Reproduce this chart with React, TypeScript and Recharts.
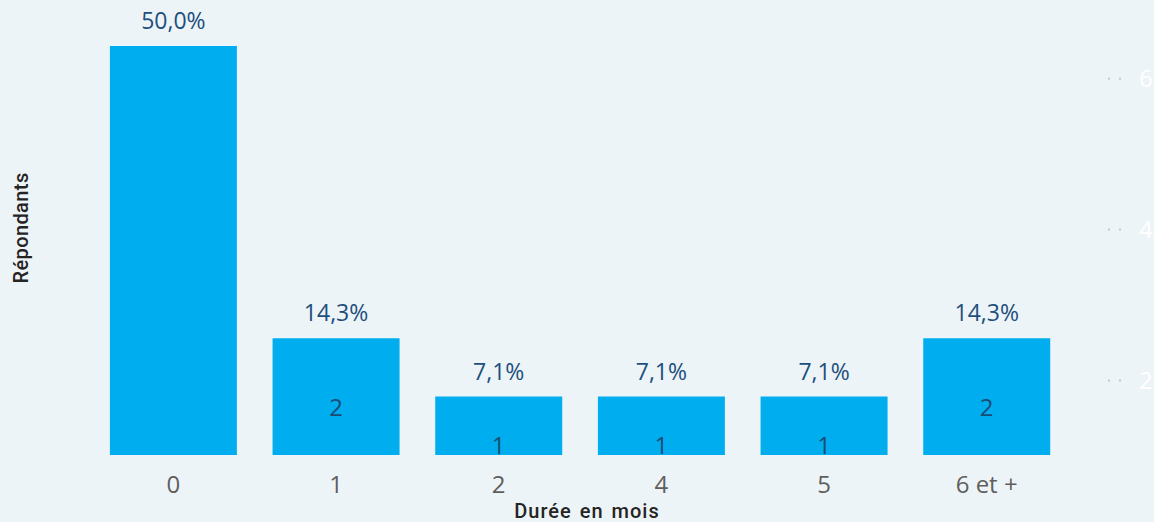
import React from 'react';
import { BarChart, Bar, XAxis, YAxis, LabelList } from 'recharts';

const categories = ['0', '1', '2', '4', '5', '6 et +'];
const respondents = [7, 2, 1, 1, 1, 2];
const rightTicks = [2, 4, 6];
const rightDomain = [1.013, 6.433];
const leftDomain = [0, 7];

const total = respondents.reduce((a, b) => a + b, 0);
const data = categories.map((c, i) => ({ cat: c, value: respondents[i] }));

const FONT = "'Segoe UI', 'Open Sans', 'Noto Sans', sans-serif";
const TITLE_FONT = "'DIN', Roboto, 'Noto Sans', sans-serif";

const pctLabel = (v: any) => ((Number(v) / total) * 100).toFixed(1).replace('.', ',') + '%';

const InnerLabel = (props: any) => {
  const { x, y, width, height, value } = props;
  if (Number(value) > rightDomain[1]) return null;
  const baseline = height > 80 ? y + height / 2 + 19 : y + height - 1;
  return (
    <text x={x + width / 2} y={baseline} textAnchor="middle" fill="#1B4C75" fontSize={24} fontFamily={FONT}>
      {value}
    </text>
  );
};

export default function App() {
  return (
    <div style={{ position: 'absolute', left: 0, top: 0, width: 1154, height: 522, background: '#EDF4F8' }}>
      <BarChart width={1154} height={522} data={data} margin={{ top: 46, right: 0, bottom: 0, left: 0 }} barCategoryGap="11%">
        <XAxis
          dataKey="cat"
          height={67}
          axisLine={false}
          tickLine={false}
          tickMargin={15}
          tick={{ fill: '#605E5C', fontSize: 24, fontFamily: FONT }}
          label={{
            content: () => (
              <text x={587} y={518} textAnchor="middle" fill="#252423" fontSize={20} fontWeight={500} letterSpacing={1} wordSpacing={2} fontFamily={TITLE_FONT}>
                Durée en mois
              </text>
            ),
          }}
        />
        <YAxis
          yAxisId="left"
          width={92}
          domain={leftDomain}
          tick={false}
          axisLine={false}
          tickLine={false}
          label={{
            content: () => (
              <text x={21} y={228} transform="rotate(-90 21 228)" textAnchor="middle" dominantBaseline="central" fill="#252423" fontSize={20} fontWeight={500} letterSpacing={0.4} fontFamily={TITLE_FONT}>
                Répondants
              </text>
            ),
          }}
        />
        <YAxis
          yAxisId="right"
          orientation="right"
          width={86}
          type="number"
          domain={rightDomain}
          ticks={rightTicks}
          allowDataOverflow
          axisLine={false}
          tickSize={53}
          tickMargin={18}
          tickLine={{ stroke: '#C8C8C8', strokeWidth: 2, strokeDasharray: '2 9 2 200' }}
          tick={{ fill: '#FFFFFF', fontSize: 24, fontFamily: FONT }}
        />
        <Bar yAxisId="left" dataKey="value" fill="#00AEEF" isAnimationActive={false}>
          <LabelList dataKey="value" position="top" offset={17} formatter={pctLabel} fill="#1D4F7C" fontSize={23} fontFamily={FONT} />
          <LabelList dataKey="value" content={InnerLabel} />
        </Bar>
      </BarChart>
    </div>
  );
}
